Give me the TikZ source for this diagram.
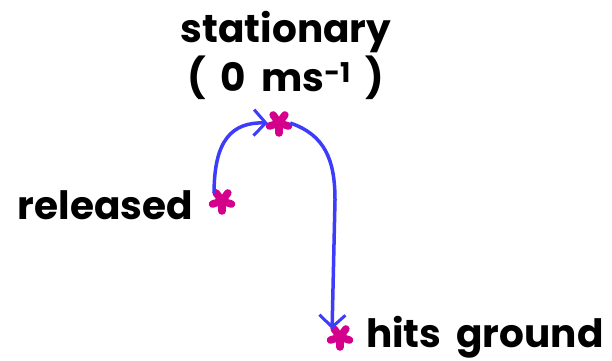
\documentclass[tikz,border=0pt]{standalone}
\usepackage{fontspec}
\setmainfont{Poppins}[WordSpace=1.8]
\usetikzlibrary{arrows.meta,positioning}
\definecolor{starpink}{RGB}{212,0,140}
\definecolor{pathblue}{RGB}{60,60,250}

\tikzset{
  spark/.style={circle, inner sep=0pt, minimum size=22pt},
  sparkarm/.style={starpink, line width=7.5pt, line cap=round},
  tag/.style={font=\fontsize{39}{44}\selectfont\bfseries, inner sep=0pt},
  flight/.style={pathblue, line width=3.5pt, -{Straight Barb[length=12pt, width=26pt, line width=3pt]}}
}

\begin{document}
\begin{tikzpicture}[x=1pt, y=-1pt]
    \useasboundingbox (0,0) rectangle (612,360);
    % the three points of the throw
    \node[spark] (rel) at (222,201) {};
    \node[spark] (top) at (279,123) {};
    \node[spark] (gnd) at (340,337) {};
    \foreach \p in {rel,top,gnd}
      \foreach \a in {90,162,234,306,378}
        \draw[sparkarm] (\p.center) -- ++(\a:-10pt);
    % labels
    \node[tag] (stat) at (286,32) {stationary};
    \node[tag, below=3pt of stat] (zero) {( 0 ms\textsuperscript{-1} )};
    \node[tag, anchor=east] (reltag) at (193,205) {released};
    \node[tag, anchor=west] (gndtag) at (366,337) {hits ground};
    % path of the ball
    \draw[flight] (rel.north west) .. controls (214,140) and (232,122) .. (top.west);
    \draw[flight] (top.east) .. controls (325,135) and (335,160) .. (335,200) -- (gnd.north west);
\end{tikzpicture}
\end{document}
